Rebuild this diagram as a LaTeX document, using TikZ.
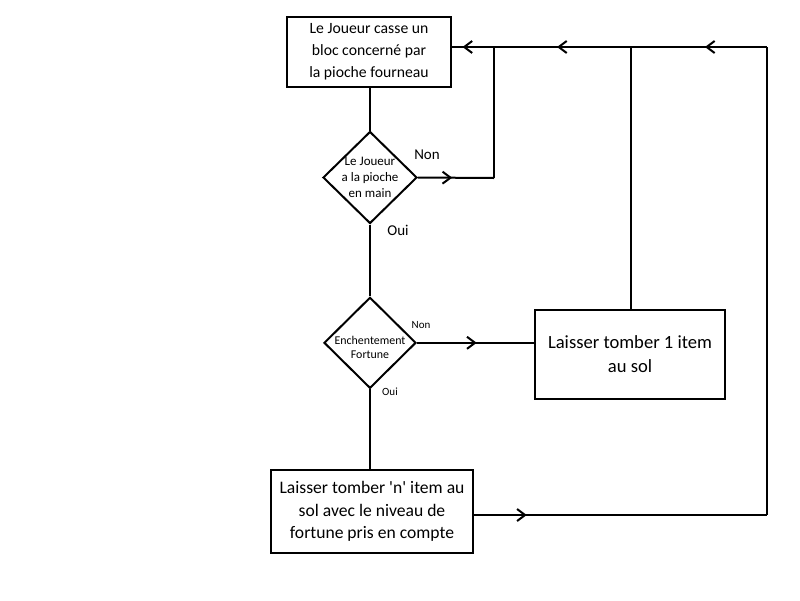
\documentclass[tikz,border=0pt]{standalone}
\usepackage{fontspec}
\setmainfont{Carlito}
\usetikzlibrary{shapes.geometric, arrows.meta, decorations.markings}

\begin{document}
\begin{tikzpicture}[x=1pt, y=-1pt, line width=2pt,
  boxnode/.style={draw, rectangle, align=center, inner sep=0pt},
  decision/.style={draw, diamond, inner sep=0pt},
  flowarrow/.style={postaction={decorate}, decoration={markings,
    mark=at position #1 with {\arrow{Straight Barb[length=8pt,width=12pt]}}}}]
  \useasboundingbox (0,0) rectangle (800,600);

  % boxes and decisions
  \node[boxnode, minimum width=164pt, minimum height=70pt, font=\fontsize{15.7}{22}\selectfont]
    (casse) at (369,52) {Le Joueur casse un\\bloc concerné par\\la pioche fourneau};
  \node[decision, minimum width=94pt, minimum height=92pt] (pioche) at (370,177.5) {};
  \node[align=center, font=\fontsize{13}{16}\selectfont] (piochetxt) at (370,177) {Le Joueur\\a la pioche\\en main};
  \node[decision, minimum width=92pt, minimum height=91pt] (fortune) at (370,342.8) {};
  \node[align=center, font=\fontsize{11.9}{14}\selectfont] (fortunetxt) at (370,347) {Enchentement\\Fortune};
  \node[boxnode, minimum width=190pt, minimum height=89pt, font=\fontsize{18.6}{24}\selectfont]
    (unitem) at (630,354) {Laisser tomber 1 item\\au sol};
  \node[boxnode, minimum width=202pt, minimum height=83pt, font=\fontsize{17.6}{22.5}\selectfont]
    (nitem) at (372,511.5) {Laisser tomber \textquotesingle n\textquotesingle{} item au\\sol avec le niveau de\\fortune pris en compte};

  % labels
  \node[font=\fontsize{15}{18}\selectfont] (non1) at (427,155) {Non};
  \node[font=\fontsize{15}{18}\selectfont] (oui1) at (398,230) {Oui};
  \node[font=\fontsize{11}{13}\selectfont] (non2) at (421,325) {Non};
  \node[font=\fontsize{11}{13}\selectfont] (oui2) at (390,392) {Oui};

  % junctions
  \coordinate (c1) at (494,178);
  \coordinate (j1) at (494,47);
  \coordinate (j2) at (631,47);
  \coordinate (j3) at (767,47);
  \coordinate (c3) at (767,515);

  % connectors
  \draw (casse.south -| pioche.north) -- (pioche.north);
  \draw (pioche.south) -- (fortune.north);
  \draw (fortune.south) -- (fortune.south |- nitem.north);
  \draw[flowarrow=0.45] (pioche.east) -- (c1);
  \draw (c1) -- (j1);
  \draw[flowarrow=0.51] (fortune.east) -- (fortune.east -| unitem.west);
  \draw (unitem.north -| j2) -- (j2);
  \draw[flowarrow=0.18] (nitem.east |- c3) -- (c3);
  \draw (c3) -- (j3);
  \draw[flowarrow=0.456] (j3) -- (j2);
  \draw[flowarrow=0.54] (j2) -- (j1);
  \draw[flowarrow=0.75] (j1) -- (j1 -| casse.east);
\end{tikzpicture}
\end{document}
